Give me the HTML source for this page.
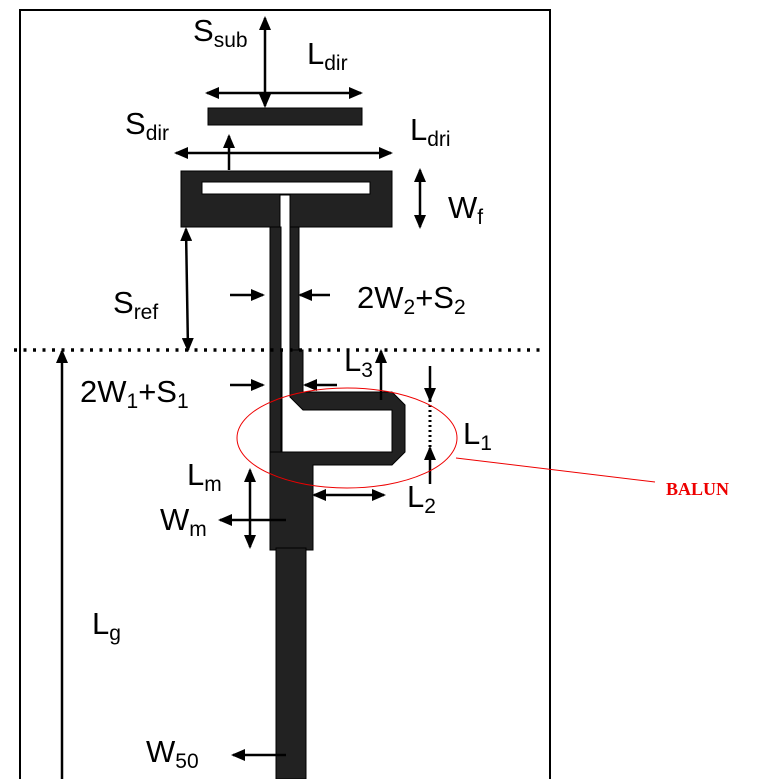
<!DOCTYPE html>
<html><head><style>
html,body{margin:0;padding:0;background:#fff;}
svg{display:block;}
text{font-family:"Liberation Sans",Arial,sans-serif;font-size:31px;fill:#000;}
tspan.s{font-size:21px;}
</style></head><body>
<svg width="769" height="779" viewBox="0 0 769 779">
<defs>
<marker id="a" markerWidth="14" markerHeight="12" refX="12" refY="6" orient="auto-start-reverse" markerUnits="userSpaceOnUse">
<path d="M0,0 L14,6 L0,12 z" fill="#000"/></marker>
</defs>
<path d="M20,779 L20,10 L550,10 L550,779" fill="none" stroke="#000" stroke-width="2"/>
<rect x="208" y="108" width="154" height="17" fill="#222" stroke="#000"/>
<path d="M181,171 H392 V227 H290 V195 H280 V227 H181 Z" fill="#222" stroke="#000"/>
<rect x="202" y="182" width="168" height="12" fill="#fff" stroke="#000"/>
<rect x="270" y="227" width="11" height="225" fill="#222" stroke="#000"/>
<rect x="290" y="227" width="9" height="123" fill="#222" stroke="#000"/>
<path d="M290,350 H303 V392 H392 L405,405 V452 L392,465 H313 V550 H270 V452 H392 V410 H303 L290,397 Z" fill="#222" stroke="#000"/>
<path d="M282,350 V452" stroke="#000"/>
<rect x="276" y="548" width="30" height="231" fill="#222" stroke="#000"/>
<line x1="14" y1="350" x2="542" y2="350" stroke="#000" stroke-width="3.5" stroke-dasharray="3,6.5"/>
<g stroke="#000" stroke-width="2.5" fill="none">
<line x1="265" y1="106" x2="265" y2="18" marker-start="url(#a)" marker-end="url(#a)"/>
<line x1="207" y1="93" x2="361" y2="93" marker-start="url(#a)" marker-end="url(#a)"/>
<line x1="229" y1="136" x2="229" y2="170" marker-start="url(#a)"/>
<line x1="176" y1="153" x2="391" y2="153" marker-start="url(#a)" marker-end="url(#a)"/>
<line x1="420" y1="170" x2="420" y2="227" marker-start="url(#a)" marker-end="url(#a)"/>
<line x1="186" y1="229" x2="188" y2="350" marker-start="url(#a)" marker-end="url(#a)"/>
<line x1="230" y1="295" x2="263" y2="295" marker-end="url(#a)"/>
<line x1="330" y1="295" x2="300" y2="295" marker-end="url(#a)"/>
<line x1="230" y1="385" x2="263" y2="385" marker-end="url(#a)"/>
<line x1="337" y1="385" x2="305" y2="385" marker-end="url(#a)"/>
<line x1="381" y1="400" x2="381" y2="351" marker-end="url(#a)"/>
<line x1="430" y1="366" x2="430" y2="400" marker-end="url(#a)"/>
<line x1="430" y1="484" x2="430" y2="448" marker-end="url(#a)"/>
<line x1="314" y1="495" x2="384" y2="495" marker-start="url(#a)" marker-end="url(#a)"/>
<line x1="250" y1="470" x2="250" y2="547" marker-start="url(#a)" marker-end="url(#a)"/>
<line x1="286" y1="520" x2="220" y2="520" marker-end="url(#a)"/>
<line x1="62" y1="779" x2="62" y2="351" marker-end="url(#a)"/>
<line x1="286" y1="755" x2="233" y2="755" marker-end="url(#a)"/>
</g>
<line x1="430" y1="400" x2="430" y2="450" stroke="#000" stroke-width="3" stroke-dasharray="2,3"/>
<text x="193" y="41">S<tspan class="s" dy="6">sub</tspan></text>
<text x="307" y="64">L<tspan class="s" dy="6">dir</tspan></text>
<text x="125" y="134">S<tspan class="s" dy="6">dir</tspan></text>
<text x="410" y="140">L<tspan class="s" dy="6">dri</tspan></text>
<text x="448" y="218">W<tspan class="s" dy="6">f</tspan></text>
<text x="113" y="313">S<tspan class="s" dy="6">ref</tspan></text>
<text x="357" y="308">2W<tspan class="s" dy="6">2</tspan><tspan dy="-6">+S</tspan><tspan class="s" dy="6">2</tspan></text>
<text x="80" y="402">2W<tspan class="s" dy="6">1</tspan><tspan dy="-6">+S</tspan><tspan class="s" dy="6">1</tspan></text>
<text x="344" y="371">L<tspan class="s" dy="6">3</tspan></text>
<text x="463" y="444">L<tspan class="s" dy="6">1</tspan></text>
<text x="407" y="507">L<tspan class="s" dy="6">2</tspan></text>
<text x="187" y="485">L<tspan class="s" dy="6">m</tspan></text>
<text x="160" y="530">W<tspan class="s" dy="6">m</tspan></text>
<text x="92" y="634">L<tspan class="s" dy="6">g</tspan></text>
<text x="146" y="762">W<tspan class="s" dy="6">50</tspan></text>
<ellipse cx="347" cy="438" rx="110" ry="50" fill="none" stroke="#e00" stroke-width="1"/>
<line x1="456" y1="458" x2="655" y2="482" stroke="#e00" stroke-width="1"/>
<text x="666" y="495" style="font-family:'Liberation Serif',serif;font-size:18px;font-weight:bold;fill:#e00">BALUN</text>
</svg>
</body></html>
